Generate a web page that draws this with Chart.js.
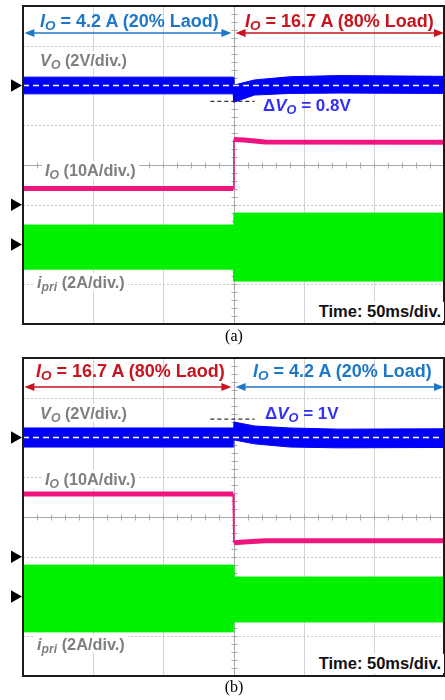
<!DOCTYPE html>
<html>
<head>
<meta charset="utf-8">
<script src="https://cdn.jsdelivr.net/npm/chart.js@4.4.1/dist/chart.umd.min.js"></script>
<style>
  body { margin: 0; background: #fff; }
  #page { position: relative; width: 445px; height: 700px; overflow: hidden;
          font-family: "Liberation Sans", Arial, sans-serif; }
  canvas { position: absolute; left: 0; }
  .t { position: absolute; font-weight: bold; white-space: nowrap; line-height: 1; }
  .t sub { font-size: 0.75em; vertical-align: -0.22em; line-height: 0; }
  .title { font-size: 18px; }
  .lbl { font-size: 16.3px; color: #7f7f7f; background: #fff; padding: 1px 3px; margin: -1px -3px; }
  .dv { font-size: 17px; color: #3232f0; }
  .time { font-size: 16.5px; color: #111; right: 4px; background: #fff; padding: 1px 3px; margin: -1px -3px; }
  .cap { position: absolute; left: 0; width: 468px; text-align: center; line-height: 1;
         font-family: "Liberation Serif", "Times New Roman", serif; font-size: 16px; }
  .blue { color: #1e78c8; }
  .red { color: #c8141e; }
</style>
</head>
<body>
<div id="page">
  <canvas id="scopeA" width="445" height="330" style="top:0"></canvas>
  <canvas id="scopeB" width="445" height="330" style="top:352px"></canvas>

  <div class="t title blue" style="left:40px;top:12px"><i>I<sub>O</sub></i> = 4.2 A (20% Laod)</div>
  <div class="t title red" style="left:245px;top:12px"><i>I<sub>O</sub></i> = 16.7 A (80% Load)</div>
  <div class="t lbl" style="left:40px;top:52px"><i>V<sub>O</sub></i> (2V/div.)</div>
  <div class="t dv" style="left:263px;top:97px">Δ<i>V<sub>O</sub></i> = 0.8V</div>
  <div class="t lbl" style="left:45px;top:162px"><i>I<sub>O</sub></i> (10A/div.)</div>
  <div class="t lbl" style="left:37px;top:274px"><i>i<sub>pri</sub></i> (2A/div.)</div>
  <div class="t time" style="top:303px">Time: 50ms/div.</div>
  <div class="cap" style="top:328px">(a)</div>

  <div class="t title red" style="left:36px;top:362px"><i>I<sub>O</sub></i> = 16.7 A (80% Laod)</div>
  <div class="t title blue" style="left:253px;top:362px"><i>I<sub>O</sub></i> = 4.2 A (20% Load)</div>
  <div class="t lbl" style="left:40px;top:405px"><i>V<sub>O</sub></i> (2V/div.)</div>
  <div class="t dv" style="left:265px;top:405px">Δ<i>V<sub>O</sub></i> = 1V</div>
  <div class="t lbl" style="left:45px;top:471px"><i>I<sub>O</sub></i> (10A/div.)</div>
  <div class="t lbl" style="left:37px;top:636px"><i>i<sub>pri</sub></i> (2A/div.)</div>
  <div class="t time" style="top:655px">Time: 50ms/div.</div>
  <div class="cap" style="top:679px">(b)</div>
</div>

<script>
// screen units: time in divisions (50 ms/div, load step at 3 div), amplitude in divisions
const stepTime = [0, 2.995, 3.005, 6];
const refTime = [0, 6];
const voRef = [2, 2];               // dashed white level of Vo
const markerLevels = [2, -1, -2];   // channel ground markers

// (a) 20% -> 80% load
const ipriTopA = [-1.51, -1.51, -1.21, -1.21];
const ipriBotA = [-2.62, -2.62, -2.92, -2.92];
const ioTimeA = [0, 2.995, 3.005, 3.15, 3.45, 6];
const ioA = [-0.59, -0.59, 0.64, 0.63, 0.58, 0.57];
const voTimeA = [0, 2.995, 3.005, 3.3, 3.8, 4.5, 6];
const voTopA = [2.21, 2.21, 2.01, 2.14, 2.22, 2.25, 2.23];
const voBotA = [1.79, 1.79, 1.58, 1.76, 1.8, 1.81, 1.8];
const dvTime = [2.67, 3.3];
const dvLevelA = [1.6, 1.6];

// (b) 80% -> 20% load
const ipriTopB = [-1.21, -1.21, -1.51, -1.51];
const ipriBotB = [-2.89, -2.89, -2.64, -2.64];
const ioTimeB = [0, 2.995, 3.005, 3.15, 3.45, 6];
const ioB = [0.58, 0.58, -0.65, -0.63, -0.6, -0.6];
const voTimeB = [0, 2.995, 3.005, 3.3, 3.8, 4.5, 6];
const voTopB = [2.24, 2.24, 2.39, 2.29, 2.24, 2.21, 2.22];
const voBotB = [1.76, 1.76, 1.94, 1.84, 1.76, 1.74, 1.75];
const dvLevelB = [2.46, 2.46];

const BLUE = '#0000fa', PINK = '#f0147f', GREEN = '#00f000';
const ARROW_BLUE = '#1e78c8', ARROW_RED = '#c8141e';

const pts = (xs, ys) => xs.map((x, i) => ({ x: x, y: ys[i] }));

const scopeDecor = {
  id: 'scopeDecor',
  beforeDatasetsDraw(chart) {
    const { ctx, chartArea: a, scales: { x, y } } = chart;
    ctx.save();
    ctx.lineWidth = 1;
    // division grid
    for (let i = 1; i < 6; i++) {
      if (i === 3) continue;
      const px = Math.round(x.getPixelForValue(i)) + 0.5;
      ctx.strokeStyle = '#d4d4d4';
      ctx.setLineDash([]);
      ctx.beginPath(); ctx.moveTo(px, a.top); ctx.lineTo(px, a.bottom); ctx.stroke();
    }
    for (let j = -3; j <= 3; j++) {
      if (j === 0) continue;
      const py = Math.round(y.getPixelForValue(j)) + 0.5;
      ctx.strokeStyle = '#c8c8c8';
      ctx.setLineDash([2, 2]);
      ctx.beginPath(); ctx.moveTo(a.left, py); ctx.lineTo(a.right, py); ctx.stroke();
    }
    ctx.setLineDash([]);
    // centre crosshair with minor ticks
    const cx = Math.round(x.getPixelForValue(3)) + 0.5;
    const cy = Math.round(y.getPixelForValue(0)) + 0.5;
    ctx.strokeStyle = '#a8a8a8';
    ctx.beginPath();
    ctx.moveTo(cx, a.top); ctx.lineTo(cx, a.bottom);
    ctx.moveTo(a.left, cy); ctx.lineTo(a.right, cy);
    for (let v = 0.2; v < 6; v += 0.2) {
      const px = Math.round(x.getPixelForValue(v)) + 0.5;
      ctx.moveTo(px, cy - 3); ctx.lineTo(px, cy + 3);
    }
    for (let v = -3.8; v < 4; v += 0.2) {
      const py = Math.round(y.getPixelForValue(v)) + 0.5;
      ctx.moveTo(cx - 3, py); ctx.lineTo(cx + 3, py);
    }
    ctx.stroke();
    ctx.restore();
  },
  afterDatasetsDraw(chart, args, opts) {
    const { ctx, chartArea: a, scales: { x, y } } = chart;
    ctx.save();
    // load arrows
    opts.arrows.forEach(ar => {
      const x0 = x.getPixelForValue(ar.from), x1 = x.getPixelForValue(ar.to);
      const py = y.getPixelForValue(opts.arrowLevel);
      ctx.strokeStyle = ar.color; ctx.fillStyle = ar.color; ctx.lineWidth = 1.5;
      ctx.beginPath(); ctx.moveTo(x0 + 8, py); ctx.lineTo(x1 - 8, py); ctx.stroke();
      ctx.beginPath();
      ctx.moveTo(x0, py); ctx.lineTo(x0 + 10, py - 4); ctx.lineTo(x0 + 10, py + 4); ctx.closePath();
      ctx.moveTo(x1, py); ctx.lineTo(x1 - 10, py - 4); ctx.lineTo(x1 - 10, py + 4); ctx.closePath();
      ctx.fill();
    });
    // frame
    ctx.strokeStyle = '#1a1a1a'; ctx.lineWidth = 2;
    ctx.strokeRect(a.left, a.top, a.right - a.left, a.bottom - a.top);
    // channel markers
    ctx.fillStyle = '#000';
    markerLevels.forEach(v => {
      const py = y.getPixelForValue(v);
      ctx.beginPath();
      ctx.moveTo(a.left - 1, py); ctx.lineTo(a.left - 12, py - 6.3); ctx.lineTo(a.left - 12, py + 6.3);
      ctx.closePath(); ctx.fill();
    });
    ctx.restore();
  }
};

function band(xs, ys, color, fill) {
  return { data: pts(xs, ys), borderColor: color, backgroundColor: color, borderWidth: 1,
           pointRadius: 0, tension: 0, fill: fill };
}

function makeScope(id, d) {
  new Chart(document.getElementById(id), {
    type: 'line',
    data: {
      datasets: [
        { data: pts(refTime, voRef), borderColor: '#ffffff', borderWidth: 1.5,
          borderDash: [6, 4], pointRadius: 0, fill: false },
        { data: pts(dvTime, d.dv), borderColor: '#333333', borderWidth: 1.3,
          borderDash: [4, 3], pointRadius: 0, fill: false, clip: false },
        band(d.voTime, d.voBot, BLUE, false),
        band(d.voTime, d.voTop, BLUE, '-1'),
        { data: pts(d.ioTime, d.io), borderColor: PINK, pointRadius: 0, fill: false,
          borderWidth: 5, borderCapStyle: 'butt',
          segment: { borderWidth: c => (c.p1.parsed.x - c.p0.parsed.x < 0.05 ? 1.5 : 5) } },
        band(stepTime, d.ipriBot, GREEN, false),
        band(stepTime, d.ipriTop, GREEN, '-1')
      ]
    },
    options: {
      responsive: false,
      animation: false,
      devicePixelRatio: 1,
      layout: { padding: { left: 23, top: 6, right: 1, bottom: 6 } },
      scales: {
        x: { type: 'linear', min: 0, max: 6, display: false },
        y: { min: -4, max: 4, display: false }
      },
      plugins: {
        legend: { display: false },
        tooltip: { enabled: false },
        scopeDecor: { arrows: d.arrows, arrowLevel: d.arrowLevel }
      }
    },
    plugins: [scopeDecor]
  });
}

makeScope('scopeA', {
  ipriTop: ipriTopA, ipriBot: ipriBotA, ioTime: ioTimeA, io: ioA,
  voTime: voTimeA, voTop: voTopA, voBot: voBotA, dv: dvLevelA,
  arrowLevel: 3.32,
  arrows: [{ from: 0.02, to: 2.97, color: ARROW_BLUE }, { from: 3.03, to: 6, color: ARROW_RED }]
});
makeScope('scopeB', {
  ipriTop: ipriTopB, ipriBot: ipriBotB, ioTime: ioTimeB, io: ioB,
  voTime: voTimeB, voTop: voTopB, voBot: voBotB, dv: dvLevelB,
  arrowLevel: 3.27,
  arrows: [{ from: 0.02, to: 2.97, color: ARROW_RED }, { from: 3.03, to: 6, color: ARROW_BLUE }]
});
</script>
</body>
</html>
